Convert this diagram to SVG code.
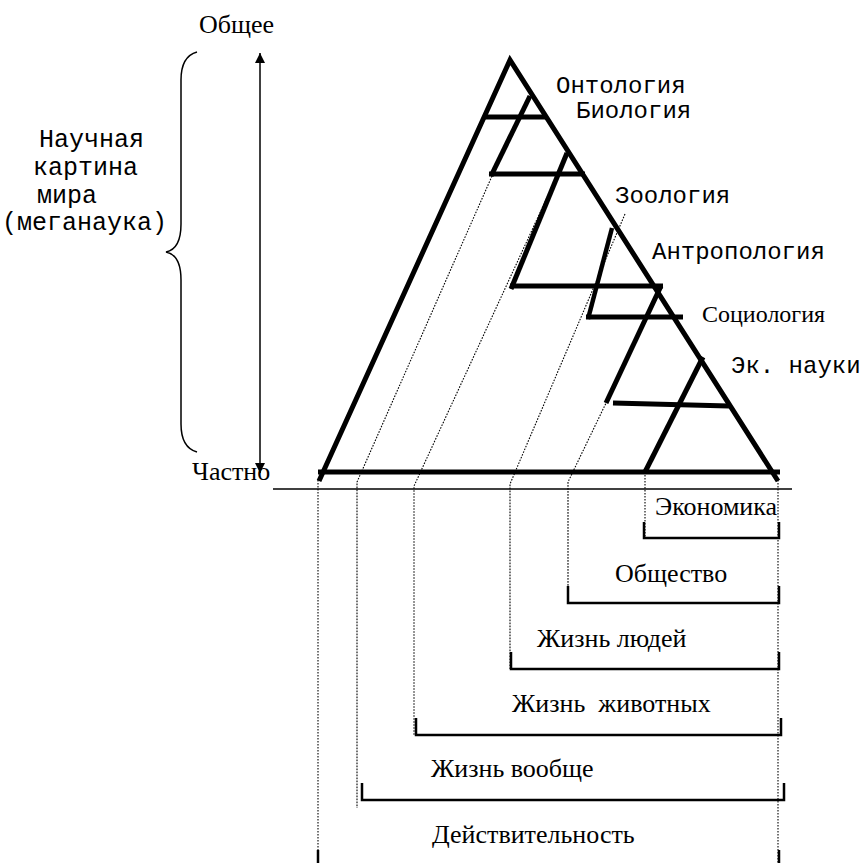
<svg xmlns="http://www.w3.org/2000/svg" width="863" height="863" viewBox="0 0 863 863">
<style>
.bg{fill:#fff}
.thick{stroke:#000;stroke-width:5;fill:none;stroke-linecap:butt}
.brk{stroke:#000;stroke-width:2.5;fill:none}
.dot{stroke:#000;stroke-width:1.1;fill:none;stroke-dasharray:1.6 1.4}
.thin{stroke:#000;stroke-width:1.5;fill:none}
.serif{font-family:"Liberation Serif","Times New Roman",serif;font-size:26px;fill:#000}
.mono{font-family:"Liberation Mono","Courier New",monospace;font-size:24px;fill:#000}
.mono25{font-family:"Liberation Mono","Courier New",monospace;font-size:25px;fill:#000}
</style>
<defs>
<marker id="ah" viewBox="0 0 10 10" refX="10" refY="5" markerWidth="10" markerHeight="10" markerUnits="userSpaceOnUse" orient="auto-start-reverse">
<path d="M0,0 L10,5 L0,10 z" fill="#000"/>
</marker>
</defs>
<rect class="bg" x="0" y="0" width="863" height="863"/>

<g id="connectors">
<polyline class="dot" points="492,176 357,482 357,808"/>
<polyline class="dot" points="568,152 414,486 414,735"/>
<polyline class="dot" points="625,214 510,484 510,669"/>
<polyline class="dot" points="607,401 568,482 568,603"/>
<line class="dot" x1="645" y1="472" x2="645" y2="538"/>
<line class="dot" x1="318" y1="480" x2="318" y2="863"/>
<line class="dot" x1="778" y1="480" x2="778" y2="863"/>
<line class="thin" x1="273" y1="489" x2="792" y2="489"/>
</g>

<g id="axis">
<line class="thin" x1="260" y1="53" x2="260" y2="473" marker-start="url(#ah)" marker-end="url(#ah)"/>
<path class="thin" d="M197,52 C186,55 181,64 181,80 L181,224 C181,240 176,250 166,252 C176,254 181,264 181,280 L181,424 C181,440 186,449 197,452"/>
<text class="serif" x="199" y="33">Общее</text>
<text class="serif" x="192" y="480">Частно</text>
</g>

<g id="meganauka">
<text class="mono25" x="39" y="147">Научная</text>
<text class="mono25" x="33" y="175">картина</text>
<text class="mono25" x="37" y="203">мира</text>
<text class="mono25" x="2" y="230">(меганаука)</text>
</g>

<g id="triangle">
<polyline class="thick" points="319,481 510,60 778,481"/>
<line class="thick" x1="318" y1="472" x2="780" y2="472"/>
</g>

<g id="ontology">
<line class="thick" x1="485" y1="117" x2="547" y2="117"/>
<text class="mono" x="556" y="93">Онтология</text>
</g>
<g id="biology">
<line class="thick" x1="530" y1="96" x2="491" y2="176"/>
<line class="thick" x1="489" y1="174" x2="585" y2="174"/>
<text class="mono" x="576" y="118">Биология</text>
</g>
<g id="zoology">
<line class="thick" x1="567" y1="153" x2="511" y2="289"/>
<line class="thick" x1="510" y1="286" x2="663" y2="286"/>
<text class="mono" x="615" y="203">Зоология</text>
</g>
<g id="anthropology">
<line class="thick" x1="612" y1="228" x2="588" y2="319" style="stroke-width:4.5"/>
<line class="thick" x1="586" y1="317" x2="683" y2="317"/>
<text class="mono" x="652" y="259">Антропология</text>
</g>
<g id="sociology">
<line class="thick" x1="661" y1="286" x2="606" y2="403"/>
<line class="thick" x1="613" y1="403" x2="729" y2="406"/>
<text class="serif" x="702" y="322" style="font-size:24px">Социология</text>
</g>
<g id="economics-sci">
<line class="thick" x1="703" y1="357" x2="645" y2="472"/>
<text class="mono" x="731" y="373">Эк. науки</text>
</g>

<g id="economy">
<polyline class="brk" points="644,522 644,538 779,538 779,522"/>
<text class="serif" x="655" y="515">Экономика</text>
</g>
<g id="society">
<polyline class="brk" points="568,586 568,603 779,603 779,586"/>
<text class="serif" x="615" y="582">Общество</text>
</g>
<g id="human-life">
<polyline class="brk" points="511,652 511,669 779,669 779,652"/>
<text class="serif" x="537" y="647">Жизнь людей</text>
</g>
<g id="animal-life">
<polyline class="brk" points="416,718 416,735 781,735 781,718"/>
<text class="serif" x="512" y="712" xml:space="preserve">Жизнь  животных</text>
</g>
<g id="life">
<polyline class="brk" points="362,783 362,800 784,800 784,783"/>
<text class="serif" x="431" y="777">Жизнь вообще</text>
</g>
<g id="reality">
<line class="brk" x1="318" y1="850" x2="318" y2="863"/>
<line class="brk" x1="779" y1="850" x2="779" y2="863"/>
<text class="serif" x="432" y="843">Действительность</text>
</g>
</svg>
